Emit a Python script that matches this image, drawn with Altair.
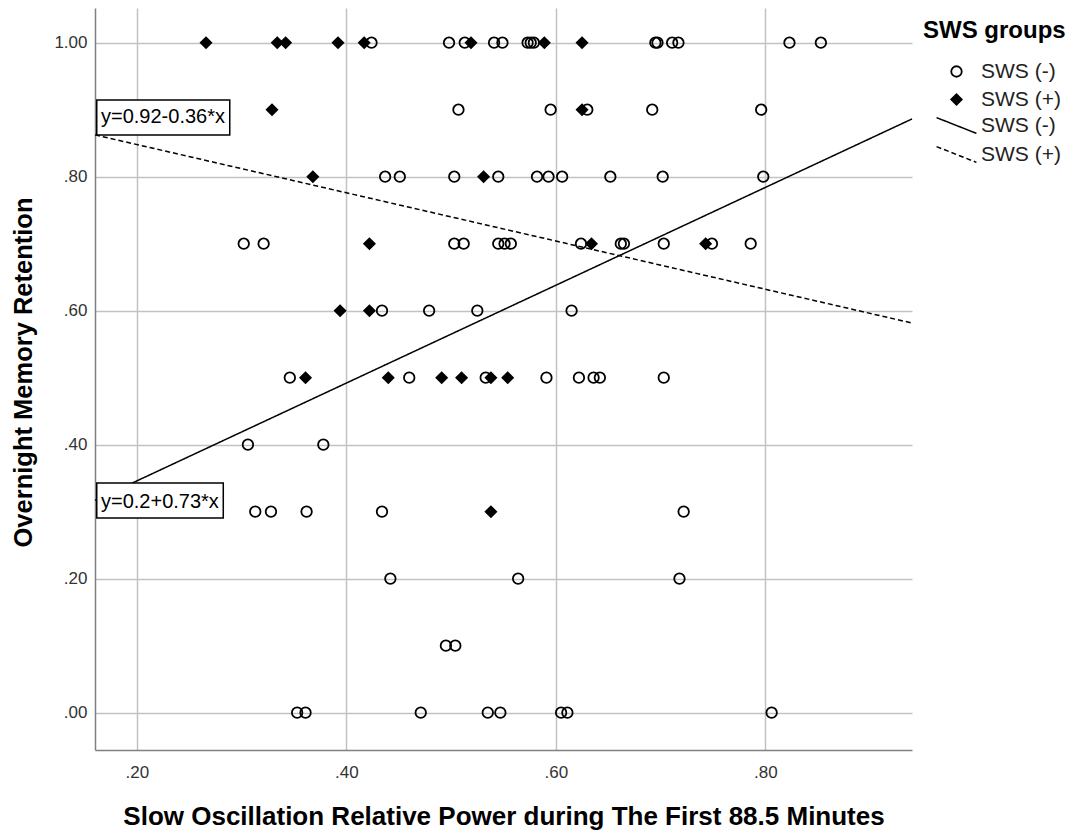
import altair as alt
import pandas as pd

# ---------------- data ----------------
groups = ["SWS (-)", "SWS (+)"]

minus_x = [0.424, 0.498, 0.513, 0.541, 0.549, 0.573, 0.576, 0.579, 0.695, 0.697, 0.711, 0.717, 0.823, 0.853,
           0.507, 0.595, 0.630, 0.692, 0.796,
           0.437, 0.451, 0.503, 0.545, 0.582, 0.593, 0.606, 0.652, 0.702, 0.798,
           0.302, 0.321, 0.503, 0.512, 0.545, 0.551, 0.557, 0.624, 0.662, 0.665, 0.703, 0.749, 0.786,
           0.434, 0.479, 0.525, 0.615,
           0.346, 0.460, 0.533, 0.591, 0.622, 0.636, 0.642, 0.703,
           0.306, 0.378,
           0.313, 0.328, 0.362, 0.434, 0.722,
           0.442, 0.564, 0.718,
           0.495, 0.504,
           0.353, 0.361, 0.471, 0.535, 0.547, 0.605, 0.611, 0.806]
minus_y = [1.0] * 14 + [0.9] * 5 + [0.8] * 10 + [0.7] * 13 + [0.6] * 4 + [0.5] * 8 + \
          [0.4] * 2 + [0.3] * 5 + [0.2] * 3 + [0.1] * 2 + [0.0] * 8

plus_x = [0.266, 0.334, 0.342, 0.392, 0.417, 0.519, 0.589, 0.625,
          0.329, 0.625,
          0.368, 0.531,
          0.422, 0.634, 0.743,
          0.394, 0.422,
          0.361, 0.440, 0.491, 0.510, 0.538, 0.554,
          0.538]
plus_y = [1.0] * 8 + [0.9] * 2 + [0.8] * 2 + [0.7] * 3 + [0.6] * 2 + [0.5] * 6 + [0.3] * 1

fit_names = ["SWS (-) fit", "SWS (+) fit"]
fit_intercepts = [0.2, 0.92]
fit_slopes = [0.73, -0.36]
fit_labels = ["y=0.2+0.73*x", "y=0.92-0.36*x"]

x_domain = [0.16, 0.94]
y_domain = [-0.0557, 1.0518]
x_ticks = [0.2, 0.4, 0.6, 0.8]
y_ticks = [0.0, 0.2, 0.4, 0.6, 0.8, 1.0]

x_title = "Slow Oscillation Relative Power during The First 88.5 Minutes"
y_title = "Overnight Memory Retention"
legend_title = "SWS groups"

# ---------------- tables ----------------
points = pd.DataFrame(
    {"x": minus_x + plus_x,
     "y": minus_y + plus_y,
     "group": [groups[0]] * len(minus_x) + [groups[1]] * len(plus_x)}
)

line_rows = []
label_rows = []
for name, a, b, lab in zip(fit_names, fit_intercepts, fit_slopes, fit_labels):
    for xv in x_domain:
        line_rows.append({"x": xv, "y": a + b * xv, "fit": name})
    label_rows.append({"x": x_domain[0], "y": a + b * x_domain[0], "fit": name, "label": lab})
lines = pd.DataFrame(line_rows)
labels = pd.DataFrame(label_rows)

fmt = "datum.value < 1 ? slice(format(datum.value, '.2f'), 1) : format(datum.value, '.2f')"

x_enc = alt.X(
    "x:Q",
    scale=alt.Scale(domain=x_domain, nice=False, zero=False),
    axis=alt.Axis(
        values=x_ticks, labelExpr=fmt, grid=True, ticks=False, tickSize=0,
        labelPadding=14, labelFontSize=17, labelColor="#333333", labelFlush=False,
        domainColor="#808080", domainWidth=1.5, gridColor="#c2c2c2", gridWidth=1.5,
        title=x_title, titleFontSize=26, titleFontWeight="bold", titleColor="black",
        titleBaseline="alphabetic", titleY=74,
    ),
)
y_enc = alt.Y(
    "y:Q",
    scale=alt.Scale(domain=y_domain, nice=False, zero=False),
    axis=alt.Axis(
        values=y_ticks, labelExpr=fmt, grid=True, ticks=False, tickSize=0,
        labelPadding=8, labelFontSize=17, labelColor="#333333", labelFlush=False,
        domainColor="#808080", domainWidth=1.5, gridColor="#c2c2c2", gridWidth=1.5,
        title=y_title, titleFontSize=25.5, titleFontWeight="bold", titleColor="black",
        titleBaseline="alphabetic", titleX=-64, titleY=364, titleAlign="center",
    ),
)

point_legend = alt.Legend(
    title=legend_title, orient="none", legendX=828, legendY=11,
    titleFontSize=24, titleFontWeight="bold", titleColor="black", titlePadding=18,
    labelFontSize=21, labelColor="#222222", rowPadding=6,
    symbolSize=110, symbolStrokeWidth=1.8,
    symbolOffset=23, labelOffset=14, padding=0,
)
line_legend = alt.Legend(
    title=None, orient="none", legendX=828, legendY=107,
    labelFontSize=21, labelColor="#222222", rowPadding=6,
    labelExpr="replace(datum.label, ' fit', '')",
    symbolType="M-3.8,-1.5L3.8,1.5", symbolSize=110, symbolStrokeWidth=1.5,
    symbolStrokeColor="black", symbolOffset=23, labelOffset=14, padding=0,
)

line_layer = alt.Chart(lines).mark_line(color="black", strokeWidth=1.5).encode(
    x=x_enc, y=y_enc,
    strokeDash=alt.StrokeDash(
        "fit:N",
        scale=alt.Scale(domain=fit_names, range=[[1, 0], [5, 3]]),
        legend=line_legend,
    ),
)

point_layer = alt.Chart(points).mark_point(
    filled=True, size=110, strokeWidth=1.8, opacity=1
).encode(
    x=x_enc, y=y_enc,
    shape=alt.Shape("group:N", scale=alt.Scale(domain=groups, range=["circle", "diamond"]),
                    legend=point_legend),
    fill=alt.Fill("group:N", scale=alt.Scale(domain=groups, range=["transparent", "black"]),
                  legend=point_legend),
    stroke=alt.Stroke("group:N", scale=alt.Scale(domain=groups, range=["black", "black"]),
                      legend=point_legend),
)

box_paths = {
    fit_names[0]: "M0.1,-1L7.33,-1L7.33,1L0.1,1Z",
    fit_names[1]: "M0.1,-2L7.7,-2L7.7,0L0.1,0Z",
}
text_dy = {fit_names[0]: 8, fit_names[1]: -12}

label_layers = []
for name in fit_names:
    base = alt.Chart(labels).transform_filter(alt.datum.fit == name)
    label_layers.append(
        base.mark_point(shape=box_paths[name], size=1225, filled=True, fill="white",
                        stroke="black", strokeWidth=1.5, opacity=1).encode(x=x_enc, y=y_enc)
    )
    label_layers.append(
        base.mark_text(align="left", baseline="alphabetic", dx=6, dy=text_dy[name],
                       fontSize=20, color="black").encode(x=x_enc, y=y_enc, text="label:N")
    )

chart = alt.layer(line_layer, point_layer, *label_layers).properties(
    width=817, height=742,
    autosize=alt.AutoSizeParams(type="none"),
    padding={"left": 87, "top": 0, "right": 164, "bottom": 81},
).configure(font="Liberation Sans").configure_view(strokeWidth=0)

chart.save("out.html", embed_options={"renderer": "svg", "actions": False})
